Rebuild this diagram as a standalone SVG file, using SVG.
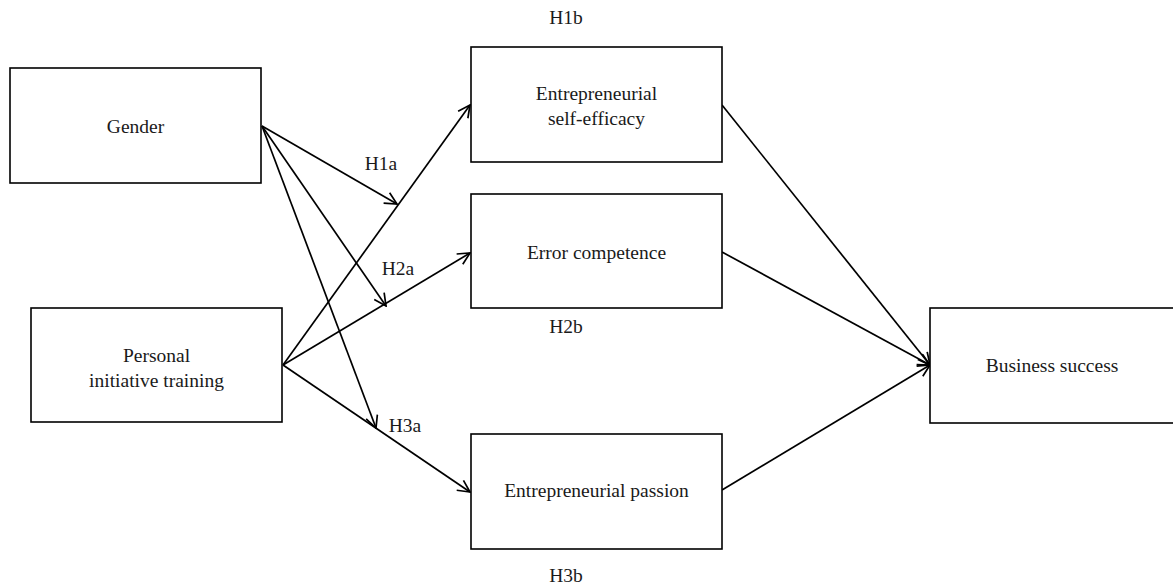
<svg xmlns="http://www.w3.org/2000/svg" width="1173" height="588" viewBox="0 0 1173 588">
<style>
.box{fill:#fff;stroke:#000;stroke-width:1.6}
.t{font-family:"Liberation Serif","Times New Roman",serif;font-size:19.5px;fill:#1a1a1a;text-anchor:middle}
.c{stroke:#000;stroke-width:1.7;fill:none;marker-end:url(#arr)}
</style>
<defs>
<marker id="arr" viewBox="0 0 14 14" refX="13" refY="7" markerWidth="14" markerHeight="14" markerUnits="userSpaceOnUse" orient="auto">
<path d="M1,1 L13,7 L1,13" fill="none" stroke="#000" stroke-width="1.7"/>
</marker>
</defs>
<rect width="1173" height="588" fill="#fff"/>
<g id="connectors">
<line class="c" x1="262" y1="126" x2="397" y2="204"/>
<line class="c" x1="262" y1="126" x2="386" y2="306"/>
<line class="c" x1="262" y1="126" x2="376" y2="428"/>
<line class="c" x1="283" y1="365" x2="470" y2="105"/>
<line class="c" x1="283" y1="365" x2="470" y2="253"/>
<line class="c" x1="283" y1="365" x2="470" y2="492"/>
<line class="c" x1="722" y1="105" x2="930" y2="365"/>
<line class="c" x1="722" y1="252" x2="930" y2="365"/>
<line class="c" x1="722" y1="490" x2="930" y2="365"/>
</g>
<g id="gender"><rect class="box" x="10" y="68" width="251" height="115"/><text class="t" x="135.5" y="133">Gender</text></g>
<g id="pit"><rect class="box" x="31" y="308" width="251" height="114"/><text class="t" x="156.5" y="362">Personal</text><text class="t" x="156.5" y="387">initiative training</text></g>
<g id="ese"><rect class="box" x="471" y="47" width="251" height="115"/><text class="t" x="596.5" y="100">Entrepreneurial</text><text class="t" x="596.5" y="125">self-efficacy</text></g>
<g id="ec"><rect class="box" x="471" y="194" width="251" height="114"/><text class="t" x="596.5" y="259">Error competence</text></g>
<g id="ep"><rect class="box" x="471" y="434" width="251" height="115"/><text class="t" x="596.5" y="497">Entrepreneurial passion</text></g>
<g id="bs"><rect class="box" x="930" y="308" width="250" height="115"/><text class="t" x="1052" y="372">Business success</text></g>
<g id="labels">
<text class="t" x="566" y="24">H1b</text>
<text class="t" x="381" y="170">H1a</text>
<text class="t" x="398" y="275">H2a</text>
<text class="t" x="566" y="333">H2b</text>
<text class="t" x="405" y="432">H3a</text>
<text class="t" x="566" y="582">H3b</text>
</g>
</svg>
